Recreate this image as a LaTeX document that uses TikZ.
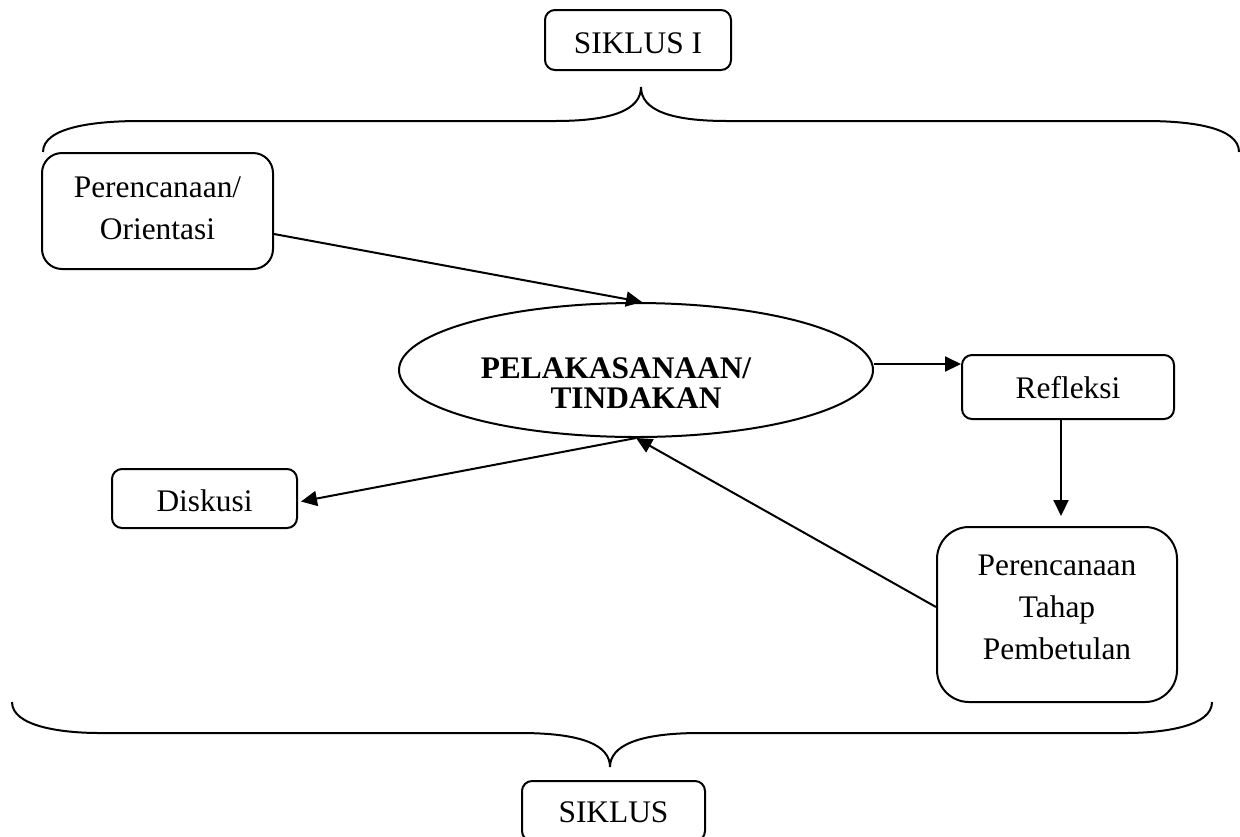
\documentclass[tikz,border=0pt]{standalone}
\usepackage{fontspec}
\setmainfont{Liberation Serif}
\usetikzlibrary{arrows.meta,shapes.geometric}
\begin{document}
\begin{tikzpicture}[x=0.5pt,y=-0.5pt,
  box/.style={draw,line width=1pt,inner sep=0pt,align=center,
    font=\fontsize{15.7}{21}\selectfont},
  conn/.style={line width=1pt,-{Triangle[length=8pt,width=7.5pt]}},
  bracel/.style={line width=1pt}
]
\useasboundingbox (0,0) rectangle (1240,836);

% nodes
\node[box,rounded corners=5pt,minimum width=93pt,minimum height=30pt,
  text height=15pt,text depth=2pt] (s1) at (638,40) {SIKLUS I};
\node[box,rounded corners=10pt,minimum width=115.5pt,minimum height=58pt,
  text depth=2.5pt] (po) at (157.5,211) {Perencanaan/\\Orientasi};
\node[draw,ellipse,line width=1pt,inner sep=0pt,minimum width=237pt,minimum height=67pt,
  align=center,text height=38pt,text depth=0pt,font=\bfseries\fontsize{15.7}{15}\selectfont] (ell) at (636,370)
  {PELAKASANAAN/\hspace*{20pt}\\TINDAKAN};
\node[box,rounded corners=5pt,minimum width=106pt,minimum height=32pt,
  text height=11pt,text depth=0pt] (refl) at (1068,387) {Refleksi};
\node[box,rounded corners=5pt,minimum width=92.5pt,minimum height=29.5pt,
  text height=13pt,text depth=0.5pt] (dis) at (204.5,498.5) {Diskusi};
\node[box,rounded corners=16pt,minimum width=120pt,minimum height=87.5pt,
  text depth=7.5pt] (pt) at (1057,614.5) {Perencanaan\\Tahap\\Pembetulan};
\node[box,rounded corners=5pt,minimum width=91.5pt,minimum height=30pt,
  text height=11pt,text depth=0pt] (s2) at (613.5,811) {SIKLUS};

% connectors
\draw[conn] ([yshift=-11.5pt]po.east) -- ([xshift=3pt]ell.north);
\draw[conn] ([yshift=3pt]ell.east) -- ([yshift=3pt]ell.east -| refl.west);
\draw[conn] ([xshift=-3.5pt]refl.south) -- ([xshift=2pt,yshift=5pt]pt.north);
\draw[conn] ([yshift=3.75pt]pt.west) -- (ell.south);
\draw[conn] (ell.south) -- ([xshift=1.5pt,yshift=-1.5pt]dis.east);

% braces
\draw[bracel] (43,152) .. controls (43,127) and (95,121) .. (140,121)
  -- (555,121) .. controls (612,121) and (641,110) .. (641,87)
  .. controls (641,110) and (670,121) .. (727,121)
  -- (1145,121) .. controls (1190,121) and (1239,127) .. (1239,152);
\draw[bracel] (12,702) .. controls (12,726) and (60,733) .. (100,733)
  -- (520,733) .. controls (582,733) and (610,745) .. (610,767)
  .. controls (610,745) and (640,733) .. (700,733)
  -- (1125,733) .. controls (1165,733) and (1212,726) .. (1212,702);
\end{tikzpicture}
\end{document}
